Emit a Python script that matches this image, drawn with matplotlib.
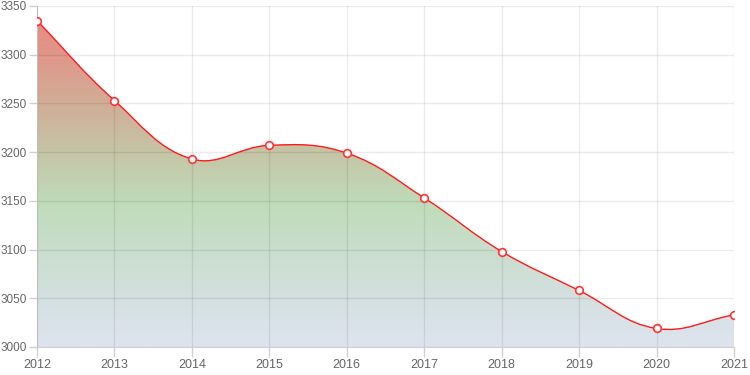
import numpy as np
import matplotlib as mpl
mpl.use('Agg')
import matplotlib.pyplot as plt
from matplotlib.path import Path
from matplotlib.patches import PathPatch
from matplotlib.colors import LinearSegmentedColormap

plt.rcParams['font.family'] = ['Liberation Sans', 'DejaVu Sans']

years = [2012, 2013, 2014, 2015, 2016, 2017, 2018, 2019, 2020, 2021]
values = [3335, 3253, 3193, 3207, 3199, 3153, 3098, 3058, 3019, 3033]
yticks = [3000, 3050, 3100, 3150, 3200, 3250, 3300, 3350]

W, H = 750, 375
fig = plt.figure(figsize=(W / 100, H / 100), dpi=100)
ax = fig.add_axes([37 / W, 28 / H, (734 - 37) / W, (347 - 6) / H])
ax.set_xlim(years[0], years[-1])
ax.set_ylim(3000, 3350)

# spline like chart.js (tension 0.4), control points computed in pixel space
sx = (734 - 37) / (years[-1] - years[0])
sy = (347 - 6) / 350.0
px = (np.array(years) - years[0]) * sx
py = (np.array(values) - 3000) * sy
n = len(px)
tension = 0.4
cp_prev = np.zeros((n, 2))
cp_next = np.zeros((n, 2))
for i in range(n):
    p0 = np.array([px[max(i - 1, 0)], py[max(i - 1, 0)]])
    p1 = np.array([px[i], py[i]])
    p2 = np.array([px[min(i + 1, n - 1)], py[min(i + 1, n - 1)]])
    d01 = np.hypot(*(p1 - p0))
    d12 = np.hypot(*(p2 - p1))
    tot = d01 + d12
    s01 = d01 / tot if tot else 0
    s12 = d12 / tot if tot else 0
    cp_prev[i] = p1 - tension * s01 * (p2 - p0)
    cp_next[i] = p1 + tension * s12 * (p2 - p0)

def to_data(p):
    return (p[0] / sx + years[0], p[1] / sy + 3000)

verts = [to_data((px[0], py[0]))]
codes = [Path.MOVETO]
for i in range(n - 1):
    verts += [to_data(cp_next[i]), to_data(cp_prev[i + 1]), to_data((px[i + 1], py[i + 1]))]
    codes += [Path.CURVE4] * 3
line_path = Path(verts, codes)

fill_verts = verts + [(years[-1], 3000), (years[0], 3000), verts[0]]
fill_codes = codes + [Path.LINETO, Path.LINETO, Path.CLOSEPOLY]
fill_patch = PathPatch(Path(fill_verts, fill_codes), facecolor='none', edgecolor='none')
ax.add_patch(fill_patch)

# gradient fill: red at top, green middle, blue-grey bottom
cmap = LinearSegmentedColormap.from_list('grad', [
    (0.0, '#dee4ef'),
    (0.15, '#d3e0df'),
    (0.42, '#bfdcba'),
    (0.57, '#c5c5a6'),
    (0.71, '#d0ae97'),
    (0.86, '#e1968a'),
    (1.0, '#ea8a80'),
])
grad = np.linspace(0, 1, 256).reshape(-1, 1)
img = ax.imshow(grad, cmap=cmap, origin='lower', aspect='auto',
                extent=[years[0], years[-1], 3000, 3350], zorder=1)
img.set_clip_path(fill_patch)

ax.add_patch(PathPatch(line_path, facecolor='none', edgecolor='#ff1a1a', lw=1.0, zorder=3))
ax.plot(years, values, 'o', ms=5.5, mfc='white', mec='#ff3333', mew=1.2, zorder=4)

ax.set_xticks(years)
ax.set_yticks(yticks)
ax.grid(color='black', alpha=0.08, lw=1, zorder=2)
ax.set_axisbelow(False)
for s in ['top', 'right']:
    ax.spines[s].set_visible(False)
for s in ['left', 'bottom']:
    ax.spines[s].set_color('#cfcfcf')
    ax.spines[s].set_zorder(2)
ax.tick_params(colors='#d0d0d0', labelcolor='#666666', labelsize=8.5, length=6, width=1, pad=1)
ax.tick_params(axis='x', labelsize=9, length=7, pad=2)

fig.savefig('out.png', dpi=100)
